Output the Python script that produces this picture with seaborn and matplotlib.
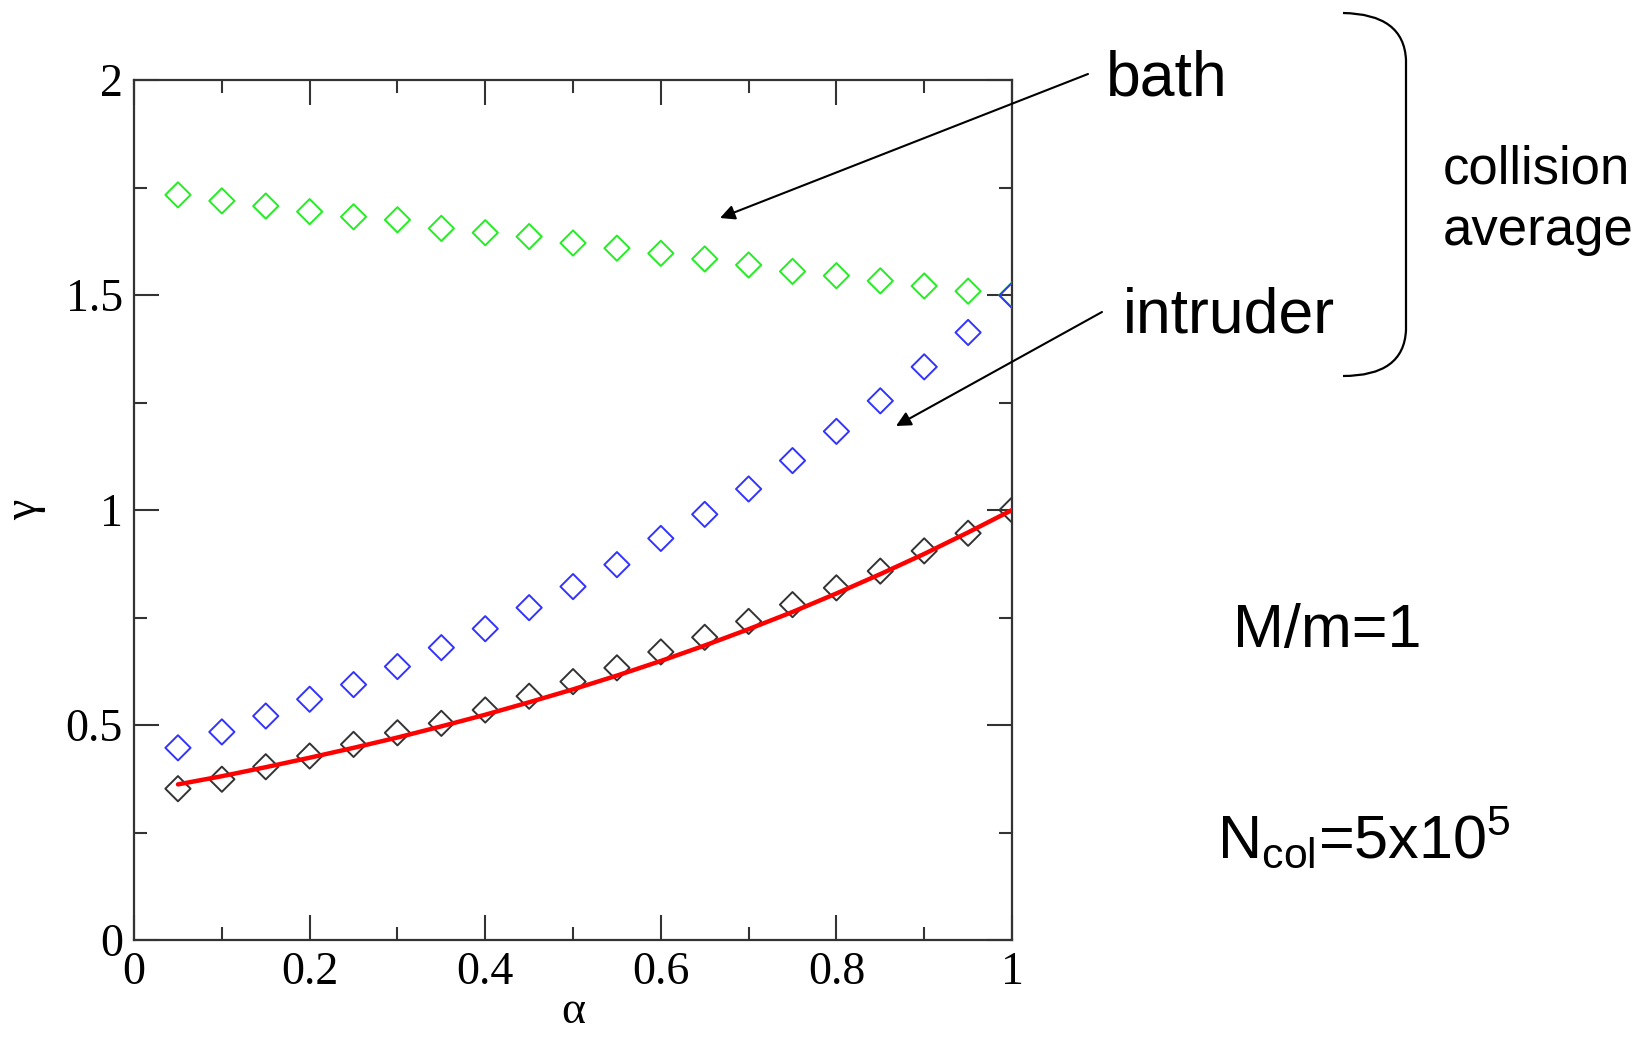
import numpy as np
import pandas as pd
import seaborn as sns
import matplotlib.pyplot as plt
from matplotlib.path import Path
from matplotlib.patches import PathPatch
from matplotlib.ticker import MultipleLocator

# data
alpha = [0.05, 0.10, 0.15, 0.20, 0.25, 0.30, 0.35, 0.40, 0.45, 0.50,
         0.55, 0.60, 0.65, 0.70, 0.75, 0.80, 0.85, 0.90, 0.95, 1.00]
gamma_bath = [1.733, 1.719, 1.707, 1.694, 1.682, 1.675, 1.655, 1.645, 1.636, 1.621,
              1.609, 1.597, 1.584, 1.570, 1.555, 1.545, 1.533, 1.521, 1.509, 1.500]
gamma_intruder = [0.447, 0.484, 0.521, 0.560, 0.594, 0.636, 0.680, 0.724, 0.773, 0.822,
                  0.873, 0.934, 0.990, 1.049, 1.115, 1.183, 1.254, 1.333, 1.413, 1.499]
gamma_total = [0.352, 0.374, 0.403, 0.428, 0.455, 0.482, 0.504, 0.535, 0.567, 0.601,
               0.633, 0.670, 0.704, 0.741, 0.780, 0.819, 0.858, 0.905, 0.946, 1.000]
gamma_theory = [0.362, 0.381, 0.402, 0.424, 0.447, 0.471, 0.497, 0.524, 0.553, 0.583,
                0.615, 0.649, 0.685, 0.723, 0.763, 0.806, 0.851, 0.898, 0.948, 1.000]
xticks = [0, 0.2, 0.4, 0.6, 0.8, 1]
xtick_labels = ["0", "0.2", "0.4", "0.6", "0.8", "1"]
yticks = [0, 0.5, 1, 1.5, 2]
ytick_labels = ["0", "0.5", "1", "1.5", "2"]

df = pd.DataFrame({"alpha": alpha, "bath": gamma_bath, "intruder": gamma_intruder,
                   "total": gamma_total, "theory": gamma_theory})

sns.set_style("ticks")
plt.rcParams['font.family'] = ['Liberation Serif', 'DejaVu Serif']
plt.rcParams['text.color'] = 'black'
plt.rcParams['axes.labelcolor'] = 'black'
plt.rcParams['xtick.labelcolor'] = 'black'
plt.rcParams['ytick.labelcolor'] = 'black'

fig = plt.figure(figsize=(16.49, 10.37), dpi=100)
ax = fig.add_axes([0.0813, 0.0935, 0.5324, 0.8293])

#diamonds
for col, c in [("bath", "#22ee22"), ("intruder", "#3333ff"), ("total", "#333333")]:
    sns.scatterplot(data=df, x="alpha", y=col, marker="D", s=165, fc="none",
                    ec=c, linewidth=1.4, ax=ax, zorder=3)
#red curve
sns.lineplot(data=df, x="alpha", y="theory", color="#ff0000", lw=3.2, ax=ax, zorder=4)

ax.set_xlim(0, 1)
ax.set_ylim(0, 2)
ax.set_xticks(xticks)
ax.set_xticklabels(xtick_labels)
ax.set_yticks(yticks)
ax.set_yticklabels(ytick_labels)
ax.xaxis.set_minor_locator(MultipleLocator(0.1))
ax.yaxis.set_minor_locator(MultipleLocator(0.25))
ax.tick_params(which="both", direction="in", top=True, right=True,
               color="#333333", width=1.5, labelsize=33, labelcolor="black")
ax.tick_params(which="major", length=18, pad=8)
ax.tick_params(which="minor", length=9.5)
for s in ax.spines.values():
    s.set_linewidth(1.6)
    s.set_color("#333333")
ax.set_xlabel("α", fontsize=33, labelpad=-2)
ax.set_ylabel("γ", fontsize=33, labelpad=14)

#annotations
sans = "Liberation Sans"
W, H = 1649, 1037
def fx(px):
    return px / W
def fy(py):
    return 1 - py / H

fig.text(fx(1106), fy(79), "bath", fontsize=45, family=sans, va="center")
fig.text(fx(1123), fy(316), "intruder", fontsize=45, family=sans, va="center")
fig.text(fx(1443), fy(169), "collision", fontsize=38, family=sans, va="center")
fig.text(fx(1443), fy(231), "average", fontsize=38, family=sans, va="center")
fig.text(fx(1233), fy(631), "M/m=1", fontsize=44, family=sans, va="center")
fig.text(fx(1217), fy(838), r"N$_{\mathregular{col}}$=5x10$^{\mathregular{5}}$",
         fontsize=44, family=sans, va="center")

for start, end in [((1088, 74), (720, 218)), ((1102, 312), (896, 426))]:
    fig.add_artist(plt.Annotation("", xy=(fx(end[0]), fy(end[1])), xycoords="figure fraction",
                                  xytext=(fx(start[0]), fy(start[1])), textcoords="figure fraction",
                                  arrowprops=dict(arrowstyle="-|>", color="black", lw=1.5,
                                                  mutation_scale=22, shrinkA=0, shrinkB=0)))

#brace
brace = Path([(fx(1343), fy(13)), (fx(1404), fy(14)), (fx(1406), fy(60)),
              (fx(1406), fy(330)), (fx(1404), fy(376)), (fx(1343), fy(376))],
             [Path.MOVETO, Path.CURVE3, Path.CURVE3, Path.LINETO, Path.CURVE3, Path.CURVE3])
fig.add_artist(PathPatch(brace, transform=fig.transFigure, fc="none", ec="black", lw=1.6))

fig.savefig("out.png", dpi=100)
